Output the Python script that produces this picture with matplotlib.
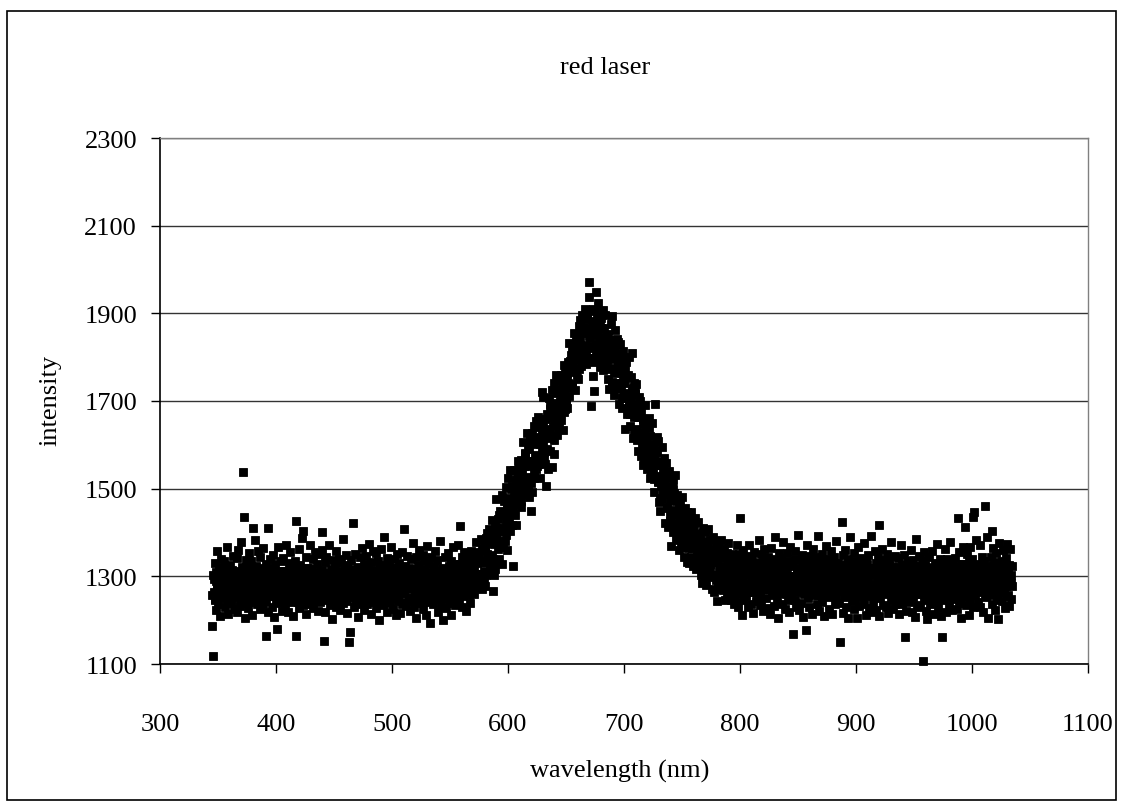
import numpy as np
import matplotlib
matplotlib.use("Agg")
import matplotlib.pyplot as plt
from matplotlib.patches import Rectangle

# spectrometer readings: main pass 0.5 nm apart (345 .. 1034.5 nm),
# second pass 1 nm apart, offset by 0.25 nm (345.25 .. 1034.25 nm)
WL_START = 345.0
WL_STOP = 1034.5
WL2_START = 345.25
WL2_STOP = 1034.25

# 345 - 564.5 nm
intensity_blue = [
    1187, 1119, 1302, 1265, 1331, 1248, 1290, 1224, 1357, 1273, 1236, 1311, 1284, 1209, 1266, 1340, 1295, 1252, 1318, 1277,
    1262, 1335, 1229, 1291, 1308, 1247, 1366, 1280, 1215, 1299, 1326, 1258, 1288, 1239, 1315, 1271, 1347, 1226, 1283, 1304,
    1252, 1296, 1342, 1219, 1285, 1361, 1268, 1310, 1233, 1290, 1378, 1246, 1322, 1537, 1436, 1275, 1205, 1301, 1337, 1259,
    1283, 1228, 1316, 1353, 1241, 1297, 1270, 1334, 1212, 1289, 1410, 1262, 1305, 1382, 1249, 1277, 1323, 1236, 1294, 1358,
    1271, 1309, 1226, 1345, 1288, 1254, 1319, 1237, 1364, 1280, 1298, 1243, 1165, 1327, 1262, 1301, 1218, 1410, 1286, 1339,
    1255, 1318, 1292, 1231, 1349, 1274, 1207, 1303, 1266, 1329, 1245, 1287, 1180, 1312, 1368, 1239, 1281, 1256, 1335, 1297,
    1222, 1299, 1341, 1268, 1313, 1235, 1285, 1372, 1250, 1306, 1219, 1276, 1331, 1262, 1294, 1356, 1241, 1318, 1283, 1210,
    1302, 1257, 1336, 1279, 1427, 1165, 1314, 1246, 1290, 1363, 1228, 1271, 1325, 1253, 1387, 1296, 1404, 1234, 1308, 1267,
    1288, 1345, 1213, 1276, 1320, 1259, 1300, 1238, 1372, 1281, 1316, 1249, 1294, 1227, 1339, 1270, 1305, 1355, 1243, 1285,
    1263, 1328, 1299, 1221, 1350, 1274, 1242, 1311, 1287, 1361, 1402, 1256, 1153, 1295, 1332, 1218, 1280, 1344, 1265, 1307,
    1248, 1290, 1371, 1235, 1317, 1269, 1203, 1301, 1338, 1277, 1255, 1322, 1292, 1229, 1358, 1284, 1246, 1311, 1272, 1340,
    1296, 1224, 1333, 1261, 1305, 1385, 1240, 1279, 1318, 1252, 1294, 1348, 1216, 1287, 1326, 1264, 1151, 1309, 1172, 1275,
    1337, 1258, 1422, 1293, 1231, 1314, 1270, 1352, 1245, 1286, 1321, 1207, 1299, 1266, 1343, 1238, 1303, 1279, 1365, 1250,
    1289, 1327, 1223, 1308, 1260, 1346, 1282, 1237, 1319, 1295, 1374, 1249, 1276, 1213, 1332, 1268, 1301, 1241, 1357, 1285,
    1266, 1310, 1354, 1228, 1291, 1247, 1336, 1274, 1201, 1316, 1283, 1362, 1257, 1298, 1234, 1325, 1271, 1390, 1244, 1306,
    1279, 1342, 1219, 1300, 1263, 1329, 1287, 1240, 1367, 1254, 1312, 1273, 1226, 1339, 1296, 1258, 1320, 1211, 1284, 1351,
    1243, 1297, 1330, 1269, 1216, 1313, 1281, 1356, 1238, 1305, 1408, 1262, 1324, 1290, 1233, 1347, 1276, 1298, 1251, 1318,
    1286, 1222, 1339, 1270, 1307, 1248, 1376, 1293, 1230, 1316, 1265, 1344, 1206, 1288, 1325, 1257, 1302, 1361, 1239, 1281,
    1315, 1260, 1296, 1349, 1225, 1282, 1334, 1271, 1211, 1308, 1253, 1369, 1289, 1242, 1327, 1277, 1193, 1300, 1345, 1264,
    1292, 1236, 1322, 1279, 1357, 1248, 1303, 1267, 1338, 1219, 1285, 1312, 1259, 1381, 1295, 1232, 1318, 1273, 1200, 1306,
    1270, 1343, 1288, 1227, 1315, 1262, 1353, 1299, 1240, 1324, 1281, 1211, 1336, 1277, 1303, 1250, 1368, 1292, 1234, 1319,
    1287, 1329, 1255, 1308, 1372, 1243, 1296, 1415, 1321, 1266, 1345, 1229, 1302, 1279, 1356, 1260, 1316, 1291, 1222, 1338,
]

# 565 - 804.5 nm (laser line)
intensity_peak = [
    1292, 1340, 1258, 1320, 1240, 1330, 1306, 1358, 1278, 1350, 1276, 1324, 1259, 1344, 1306, 1378, 1282, 1334, 1296, 1356,
    1350, 1276, 1336, 1386, 1306, 1361, 1270, 1332, 1372, 1294, 1363, 1279, 1387, 1335, 1400, 1305, 1376, 1343, 1409, 1321,
    1328, 1387, 1429, 1346, 1267, 1303, 1373, 1418, 1317, 1394, 1477, 1384, 1362, 1431, 1339, 1409, 1450, 1368, 1441, 1328,
    1486, 1411, 1366, 1473, 1441, 1381, 1504, 1423, 1459, 1359, 1524, 1432, 1478, 1542, 1404, 1500, 1450, 1418, 1324, 1466,
    1482, 1542, 1439, 1516, 1416, 1529, 1499, 1564, 1464, 1554, 1480, 1540, 1459, 1565, 1517, 1607, 1487, 1552, 1505, 1580,
    1582, 1490, 1564, 1627, 1527, 1596, 1482, 1560, 1610, 1512, 1450, 1492, 1627, 1562, 1643, 1525, 1613, 1572, 1655, 1544,
    1552, 1618, 1664, 1572, 1640, 1525, 1602, 1652, 1720, 1626, 1710, 1607, 1583, 1659, 1557, 1635, 1507, 1590, 1671, 1545,
    1706, 1631, 1586, 1693, 1661, 1549, 1724, 1643, 1679, 1579, 1742, 1650, 1696, 1760, 1622, 1718, 1668, 1636, 1748, 1684,
    1700, 1760, 1657, 1734, 1634, 1747, 1717, 1782, 1682, 1772, 1705, 1765, 1684, 1790, 1742, 1832, 1712, 1777, 1730, 1805,
    1815, 1732, 1799, 1856, 1766, 1828, 1725, 1795, 1840, 1752, 1844, 1750, 1871, 1812, 1885, 1779, 1858, 1822, 1896, 1796,
    1809, 1868, 1910, 1827, 1888, 1784, 1854, 1899, 1798, 1972, 1937, 1844, 1822, 1689, 1799, 1869, 1910, 1758, 1722, 1788,
    1905, 1830, 1948, 1892, 1860, 1800, 1923, 1842, 1878, 1778, 1890, 1798, 1844, 1908, 1770, 1866, 1816, 1784, 1896, 1832,
    1793, 1853, 1750, 1827, 1727, 1840, 1810, 1875, 1775, 1893, 1735, 1795, 1714, 1820, 1772, 1862, 1742, 1807, 1841, 1835,
    1785, 1693, 1767, 1830, 1730, 1799, 1685, 1763, 1813, 1715, 1742, 1637, 1772, 1707, 1788, 1670, 1758, 1717, 1800, 1689,
    1642, 1708, 1754, 1809, 1730, 1615, 1692, 1742, 1630, 1716, 1739, 1636, 1612, 1688, 1586, 1664, 1710, 1619, 1700, 1574,
    1673, 1598, 1553, 1660, 1628, 1568, 1691, 1610, 1646, 1546, 1644, 1552, 1598, 1662, 1524, 1620, 1570, 1538, 1650, 1586,
    1536, 1596, 1493, 1570, 1693, 1583, 1553, 1618, 1518, 1608, 1469, 1529, 1448, 1554, 1506, 1596, 1476, 1541, 1494, 1569,
    1513, 1421, 1495, 1558, 1458, 1527, 1413, 1491, 1541, 1443, 1474, 1369, 1504, 1439, 1520, 1402, 1490, 1449, 1532, 1421,
    1384, 1443, 1485, 1402, 1463, 1359, 1429, 1474, 1373, 1450, 1482, 1389, 1367, 1436, 1344, 1414, 1455, 1373, 1446, 1333,
    1432, 1368, 1330, 1421, 1393, 1343, 1447, 1378, 1409, 1324, 1419, 1341, 1380, 1434, 1317, 1398, 1356, 1329, 1424, 1369,
    1340, 1391, 1303, 1369, 1284, 1380, 1354, 1410, 1325, 1401, 1299, 1350, 1281, 1371, 1330, 1407, 1305, 1360, 1320, 1384,
    1351, 1272, 1335, 1389, 1304, 1362, 1265, 1332, 1374, 1291, 1333, 1244, 1359, 1303, 1372, 1272, 1347, 1312, 1382, 1288,
    1268, 1324, 1363, 1285, 1343, 1245, 1311, 1353, 1258, 1331, 1376, 1289, 1268, 1333, 1246, 1313, 1352, 1274, 1343, 1236,
    1296, 1338, 1255, 1316, 1372, 1240, 1303, 1229, 1350, 1281, 1432, 1262, 1325, 1212, 1289, 1361, 1247, 1318, 1274, 1344,
]

# 805 - 1034.5 nm
intensity_ir = [
    1310, 1256, 1347, 1283, 1229, 1325, 1371, 1268, 1302, 1238, 1339, 1290, 1216, 1318, 1264, 1356, 1297, 1243, 1330, 1279,
    1263, 1321, 1384, 1287, 1235, 1309, 1350, 1246, 1298, 1222, 1336, 1275, 1362, 1303, 1250, 1319, 1228, 1291, 1345, 1270,
    1328, 1281, 1215, 1306, 1365, 1257, 1293, 1340, 1232, 1315, 1272, 1389, 1299, 1244, 1326, 1284, 1206, 1311, 1353, 1261,
    1295, 1342, 1238, 1314, 1270, 1378, 1289, 1225, 1333, 1262, 1307, 1354, 1247, 1290, 1219, 1324, 1281, 1366, 1253, 1301,
    1276, 1329, 1168, 1300, 1245, 1358, 1286, 1231, 1317, 1265, 1395, 1292, 1224, 1338, 1271, 1310, 1240, 1348, 1283, 1208,
    1318, 1259, 1336, 1290, 1178, 1305, 1372, 1251, 1283, 1229, 1346, 1297, 1268, 1322, 1214, 1301, 1362, 1257, 1311, 1274,
    1287, 1344, 1236, 1312, 1268, 1393, 1295, 1221, 1327, 1258, 1306, 1351, 1242, 1289, 1334, 1210, 1299, 1264, 1370, 1282,
    1253, 1316, 1278, 1339, 1226, 1302, 1261, 1357, 1285, 1213, 1321, 1270, 1343, 1236, 1294, 1380, 1249, 1308, 1267, 1331,
    1298, 1240, 1325, 1151, 1283, 1425, 1266, 1349, 1217, 1304, 1277, 1361, 1231, 1313, 1258, 1292, 1340, 1205, 1287, 1329,
    1390, 1262, 1310, 1243, 1336, 1279, 1225, 1354, 1292, 1248, 1319, 1204, 1284, 1367, 1256, 1301, 1233, 1342, 1270, 1296,
    1318, 1252, 1289, 1375, 1237, 1306, 1263, 1333, 1211, 1295, 1348, 1274, 1228, 1320, 1257, 1391, 1282, 1219, 1311, 1266,
    1240, 1302, 1357, 1276, 1223, 1330, 1268, 1294, 1344, 1209, 1416, 1287, 1251, 1326, 1271, 1362, 1234, 1305, 1280, 1338,
    1291, 1229, 1315, 1263, 1352, 1284, 1217, 1334, 1270, 1303, 1246, 1378, 1289, 1226, 1321, 1258, 1299, 1347, 1238, 1274,
    1307, 1255, 1341, 1280, 1214, 1318, 1268, 1372, 1293, 1236, 1327, 1261, 1300, 1349, 1161, 1285, 1222, 1312, 1272, 1336,
    1265, 1323, 1241, 1296, 1360, 1277, 1219, 1309, 1253, 1338, 1284, 1207, 1319, 1270, 1385, 1292, 1235, 1304, 1259, 1346,
    1283, 1229, 1311, 1264, 1337, 1107, 1295, 1247, 1356, 1276, 1220, 1322, 1288, 1203, 1307, 1261, 1344, 1279, 1236, 1315,
    1296, 1358, 1251, 1318, 1272, 1213, 1331, 1286, 1244, 1374, 1301, 1228, 1312, 1266, 1340, 1290, 1210, 1325, 1257, 1161,
    1302, 1245, 1329, 1277, 1363, 1218, 1291, 1340, 1256, 1314, 1232, 1284, 1379, 1268, 1306, 1223, 1332, 1293, 1249, 1321,
    1274, 1342, 1260, 1305, 1226, 1432, 1288, 1355, 1239, 1316, 1271, 1204, 1327, 1295, 1367, 1252, 1310, 1281, 1413, 1235,
    1299, 1350, 1264, 1322, 1211, 1287, 1368, 1245, 1309, 1276, 1339, 1229, 1435, 1293, 1446, 1258, 1318, 1384, 1270, 1303,
    1241, 1326, 1285, 1372, 1230, 1311, 1267, 1345, 1296, 1219, 1334, 1278, 1461, 1305, 1252, 1389, 1289, 1206, 1320, 1271,
    1312, 1258, 1344, 1290, 1403, 1236, 1301, 1365, 1273, 1224, 1329, 1282, 1353, 1247, 1316, 1202, 1294, 1377, 1263, 1308,
    1280, 1336, 1243, 1319, 1359, 1268, 1297, 1227, 1341, 1285, 1374, 1254, 1310, 1233, 1326, 1289, 1362, 1248, 1303, 1279,
]

# second pass, one reading per nm
intensity_pass2 = [
    1258, 1295, 1245, 1310, 1283, 1268, 1318, 1252, 1300, 1275,
    1298, 1250, 1288, 1315, 1262, 1305, 1242, 1285, 1270, 1308,
    1272, 1312, 1255, 1292, 1240, 1302, 1265, 1316, 1280, 1248,
    1306, 1266, 1320, 1247, 1290, 1256, 1296, 1274, 1313, 1260,
    1250, 1286, 1304, 1262, 1316, 1278, 1244, 1294, 1308, 1268,
    1316, 1254, 1297, 1277, 1259, 1293, 1247, 1309, 1285, 1266,
    1296, 1253, 1286, 1313, 1264, 1303, 1244, 1283, 1272, 1306,
    1274, 1310, 1257, 1290, 1242, 1300, 1267, 1314, 1282, 1250,
    1304, 1268, 1318, 1249, 1288, 1258, 1294, 1276, 1311, 1262,
    1252, 1284, 1302, 1264, 1314, 1280, 1246, 1292, 1306, 1270,
    1260, 1297, 1247, 1308, 1281, 1270, 1316, 1254, 1298, 1277,
    1300, 1252, 1290, 1313, 1260, 1307, 1244, 1287, 1268, 1310,
    1270, 1314, 1253, 1294, 1242, 1304, 1263, 1318, 1278, 1250,
    1308, 1264, 1318, 1249, 1292, 1254, 1298, 1272, 1315, 1258,
    1248, 1288, 1306, 1260, 1318, 1276, 1246, 1296, 1310, 1266,
    1256, 1293, 1243, 1312, 1285, 1266, 1320, 1250, 1302, 1273,
    1296, 1248, 1286, 1317, 1264, 1303, 1240, 1289, 1274, 1306,
    1276, 1308, 1251, 1296, 1244, 1298, 1269, 1312, 1284, 1246,
    1302, 1270, 1316, 1245, 1290, 1260, 1292, 1278, 1309, 1264,
    1254, 1282, 1300, 1266, 1312, 1282, 1248, 1290, 1304, 1272,
    1263, 1300, 1250, 1315, 1288, 1273, 1322, 1257, 1305, 1280,
    1310, 1262, 1300, 1327, 1274, 1317, 1254, 1297, 1282, 1320,
    1279, 1317, 1268, 1333, 1306, 1293, 1345, 1280, 1330, 1306,
    1336, 1291, 1333, 1363, 1313, 1360, 1302, 1350, 1340, 1383,
    1348, 1401, 1339, 1388, 1332, 1411, 1373, 1440, 1403, 1371,
    1446, 1404, 1476, 1394, 1452, 1418, 1472, 1452, 1506, 1448,
    1442, 1491, 1520, 1475, 1546, 1508, 1473, 1539, 1562, 1520,
    1514, 1563, 1508, 1591, 1564, 1551, 1616, 1540, 1603, 1577,
    1610, 1557, 1608, 1644, 1585, 1642, 1571, 1628, 1615, 1666,
    1627, 1681, 1618, 1668, 1612, 1691, 1653, 1720, 1683, 1651,
    1726, 1685, 1757, 1676, 1735, 1701, 1756, 1738, 1792, 1736,
    1732, 1783, 1813, 1770, 1843, 1806, 1772, 1839, 1863, 1822,
    1816, 1864, 1808, 1890, 1862, 1848, 1907, 1826, 1882, 1851,
    1877, 1815, 1857, 1885, 1817, 1866, 1785, 1832, 1809, 1851,
    1802, 1845, 1772, 1811, 1744, 1813, 1764, 1820, 1772, 1729,
    1793, 1740, 1800, 1707, 1754, 1708, 1750, 1718, 1759, 1688,
    1670, 1706, 1721, 1663, 1722, 1670, 1622, 1675, 1684, 1629,
    1610, 1647, 1580, 1651, 1612, 1586, 1639, 1552, 1603, 1566,
    1587, 1522, 1561, 1586, 1515, 1560, 1478, 1523, 1499, 1538,
    1488, 1530, 1456, 1494, 1426, 1494, 1444, 1500, 1451, 1408,
    1471, 1418, 1478, 1385, 1432, 1386, 1430, 1400, 1443, 1375,
    1365, 1397, 1411, 1365, 1415, 1373, 1336, 1382, 1393, 1349,
    1336, 1370, 1317, 1379, 1349, 1331, 1378, 1310, 1355, 1328,
    1348, 1298, 1334, 1359, 1304, 1345, 1280, 1322, 1305, 1342,
    1304, 1343, 1285, 1320, 1267, 1328, 1290, 1340, 1303, 1270,
    1326, 1286, 1340, 1267, 1310, 1276, 1316, 1294, 1333, 1280,
    1270, 1306, 1324, 1282, 1336, 1298, 1264, 1314, 1328, 1288,
    1278, 1315, 1265, 1330, 1303, 1288, 1338, 1272, 1320, 1295,
    1318, 1270, 1308, 1335, 1282, 1325, 1262, 1305, 1290, 1328,
    1292, 1332, 1275, 1312, 1260, 1322, 1285, 1336, 1300, 1268,
    1326, 1286, 1340, 1267, 1310, 1276, 1316, 1294, 1333, 1280,
    1270, 1306, 1324, 1282, 1336, 1298, 1264, 1314, 1328, 1288,
    1270, 1307, 1257, 1322, 1295, 1280, 1330, 1264, 1312, 1287,
    1310, 1262, 1300, 1327, 1274, 1317, 1254, 1297, 1282, 1320,
    1284, 1324, 1267, 1304, 1252, 1314, 1277, 1328, 1292, 1260,
    1318, 1278, 1332, 1259, 1302, 1268, 1308, 1286, 1325, 1272,
    1262, 1298, 1316, 1274, 1328, 1290, 1256, 1306, 1320, 1280,
    1268, 1305, 1255, 1320, 1293, 1278, 1328, 1262, 1310, 1285,
    1308, 1260, 1298, 1325, 1272, 1315, 1252, 1295, 1280, 1318,
    1282, 1322, 1265, 1302, 1250, 1312, 1275, 1326, 1290, 1258,
    1316, 1276, 1330, 1257, 1300, 1266, 1306, 1284, 1323, 1270,
    1260, 1296, 1314, 1272, 1326, 1288, 1254, 1304, 1318, 1278,
    1271, 1306, 1257, 1321, 1294, 1279, 1329, 1263, 1311, 1286,
    1309, 1261, 1299, 1326, 1273, 1316, 1253, 1296, 1281, 1319,
    1283, 1323, 1266, 1303, 1251, 1313, 1276, 1327, 1291, 1259,
    1321, 1281, 1335, 1262, 1305, 1271, 1311, 1289, 1328, 1275,
    1265, 1301, 1319, 1277, 1331, 1293, 1259, 1309, 1323, 1283,
    1273, 1310, 1260, 1325, 1298, 1283, 1333, 1267, 1315, 1290,
    1313, 1265, 1303, 1330, 1277, 1320, 1257, 1300, 1285, 1323,
]

X_TICKS = [300, 400, 500, 600, 700, 800, 900, 1000, 1100]
Y_TICKS = [1100, 1300, 1500, 1700, 1900, 2100, 2300]

W, H = 1123, 803
FONT = "Liberation Serif"
FS = 19


def main():
    main_pass = np.array(intensity_blue + intensity_peak + intensity_ir)
    second_pass = np.array(intensity_pass2)
    wavelength = np.concatenate([
        np.linspace(WL_START, WL_STOP, len(main_pass)),
        np.linspace(WL2_START, WL2_STOP, len(second_pass)),
    ])
    intensity = np.concatenate([main_pass, second_pass])

    plt.rcParams["font.family"] = [FONT, "DejaVu Serif"]
    fig = plt.figure(figsize=(W / 100, H / 100), dpi=100)
    ax = fig.add_axes([160 / W, 1 - 665 / H, (1088 - 160) / W, (665 - 139) / H])

    ax.plot(wavelength, intensity, linestyle="none", marker="s", markersize=6.1,
            markerfacecolor="black", markeredgecolor="black", markeredgewidth=0.6,
            zorder=3, clip_on=False)

    ax.set_xlim(300, 1100)
    ax.set_ylim(1100, 2300)
    ax.set_xticks(X_TICKS)
    ax.set_yticks(Y_TICKS)
    ax.grid(axis="y", color="#333333", linewidth=1.0)
    ax.set_axisbelow(True)

    for side in ("left", "bottom"):
        ax.spines[side].set_color("black")
        ax.spines[side].set_linewidth(1.2)
    for side in ("top", "right"):
        ax.spines[side].set_color("#808080")
        ax.spines[side].set_linewidth(1.0)

    ax.tick_params(axis="x", direction="out", length=6.5, width=1, pad=29, labelsize=FS)
    ax.tick_params(axis="y", direction="out", length=6.5, width=1, pad=10, labelsize=FS)

    fig.text(605 / W, 1 - 68 / H, "red laser", ha="center", va="center", fontsize=FS)
    fig.text(620 / W, 1 - 771 / H, "wavelength (nm)", ha="center", va="center", fontsize=FS)
    fig.text(50 / W, 1 - 400 / H, "intensity", ha="center", va="center",
             rotation=90, fontsize=FS)

    # chart area border
    fig.add_artist(Rectangle((7 / W, 1 - 801 / H), (1116 - 7) / W, (801 - 12) / H,
                             transform=fig.transFigure, fill=False,
                             edgecolor="black", linewidth=1.2))

    fig.savefig("out.png", dpi=100)
    plt.close(fig)


if __name__ == "__main__":
    main()
